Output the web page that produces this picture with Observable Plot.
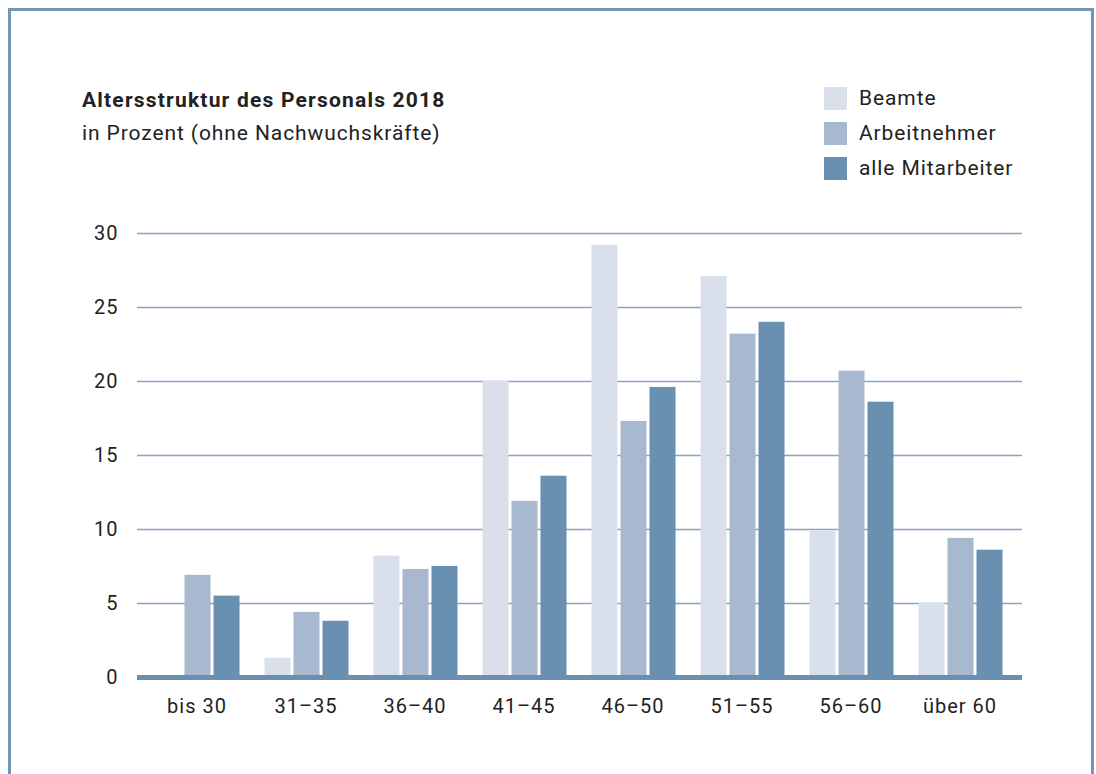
<!DOCTYPE html>
<html>
<head>
<meta charset="utf-8">
<script src="https://cdn.jsdelivr.net/npm/d3@7"></script>
<script src="https://cdn.jsdelivr.net/npm/@observablehq/plot@0.6"></script>
<style>
  html, body { margin: 0; padding: 0; background: #fff; overflow: hidden; }
  body { width: 1096px; height: 774px; position: relative; font-family: Roboto, "Noto Sans", sans-serif; color: #222; }
  #frame { position: absolute; left: 8px; top: 8px; width: 1080px; height: 820px; border: 3px solid #6f95b7; box-sizing: content-box; }
  #header { position: relative; width: 1096px; height: 200px; }
  .t { position: absolute; white-space: nowrap; line-height: 21px; font-size: 21px; letter-spacing: 0.9px; }
  #title { left: 82px; top: 90px; font-weight: bold; letter-spacing: 1.2px; }
  #subtitle { left: 82px; top: 123px; }
  .sw { position: absolute; left: 824px; width: 23px; height: 23px; }
  .lt { left: 859px; }
  #chart { position: relative; }
</style>
</head>
<body>
<div id="frame"></div>
<div id="header">
  <div class="t" id="title">Altersstruktur des Personals 2018</div>
  <div class="t" id="subtitle">in Prozent (ohne Nachwuchskräfte)</div>
  <div id="legend"></div>
</div>
<div id="chart"></div>
<script>
const categories = ["bis 30", "31–35", "36–40", "41–45", "46–50", "51–55", "56–60", "über 60"];
const seriesNames = ["Beamte", "Arbeitnehmer", "alle Mitarbeiter"];
const seriesColors = ["#d9e0eb", "#a7b8cf", "#6990b1"];
const beamte = [0, 1.3, 8.2, 20.0, 29.2, 27.1, 9.9, 5.0];
const arbeitnehmer = [6.9, 4.4, 7.3, 11.9, 17.3, 23.2, 20.7, 9.4];
const alleMitarbeiter = [5.5, 3.8, 7.5, 13.6, 19.6, 24.0, 18.6, 8.6];
const yTicks = [0, 5, 10, 15, 20, 25, 30];

const valuesBySeries = [beamte, arbeitnehmer, alleMitarbeiter];
const data = categories.flatMap((c, i) =>
  seriesNames.map((s, j) => ({cat: c, series: s, value: valuesBySeries[j][i]}))
);

// Legend (HTML)
const legend = document.getElementById("legend");
seriesNames.forEach((s, j) => {
  const sw = document.createElement("div");
  sw.className = "sw";
  sw.style.top = (87 + 35 * j) + "px";
  sw.style.background = seriesColors[j];
  legend.appendChild(sw);
  const t = document.createElement("div");
  t.className = "t lt";
  t.style.top = (88 + 35 * j) + "px";
  t.textContent = s;
  legend.appendChild(t);
});

const offsets = [-29, 0, 29];
const barMarks = seriesNames.map((s, j) =>
  Plot.barY(data.filter(d => d.series === s), {
    x: "cat", y: "value", fill: "series",
    insetLeft: 41.5, insetRight: 41.5, dx: offsets[j]
  })
);

const chart = Plot.plot({
  width: 1096,
  height: 574,
  marginTop: 33,
  marginBottom: 97,
  marginLeft: 137,
  marginRight: 74,
  style: {fontFamily: "Roboto, 'Noto Sans', sans-serif", fontSize: "20px", color: "#222", background: "transparent", letterSpacing: "1px"},
  x: {domain: categories, padding: 0, insetLeft: 5.5, insetRight: 7.5, label: null},
  y: {domain: [0, 30], label: null},
  color: {domain: seriesNames, range: seriesColors},
  marks: [
    Plot.ruleY(yTicks.filter(v => v > 0), {stroke: "#87a4c0", strokeWidth: 1.6}),
    ...barMarks,
    Plot.ruleY([0], {stroke: "#6a8fb1", strokeWidth: 5}),
    Plot.axisY({ticks: yTicks, tickSize: 0, tickPadding: 19, label: null, fontSize: 20}),
    Plot.axisX({tickSize: 0, tickPadding: 21, label: null, fontSize: 20, dx: -1})
  ]
});
document.getElementById("chart").appendChild(chart);
</script>
</body>
</html>
